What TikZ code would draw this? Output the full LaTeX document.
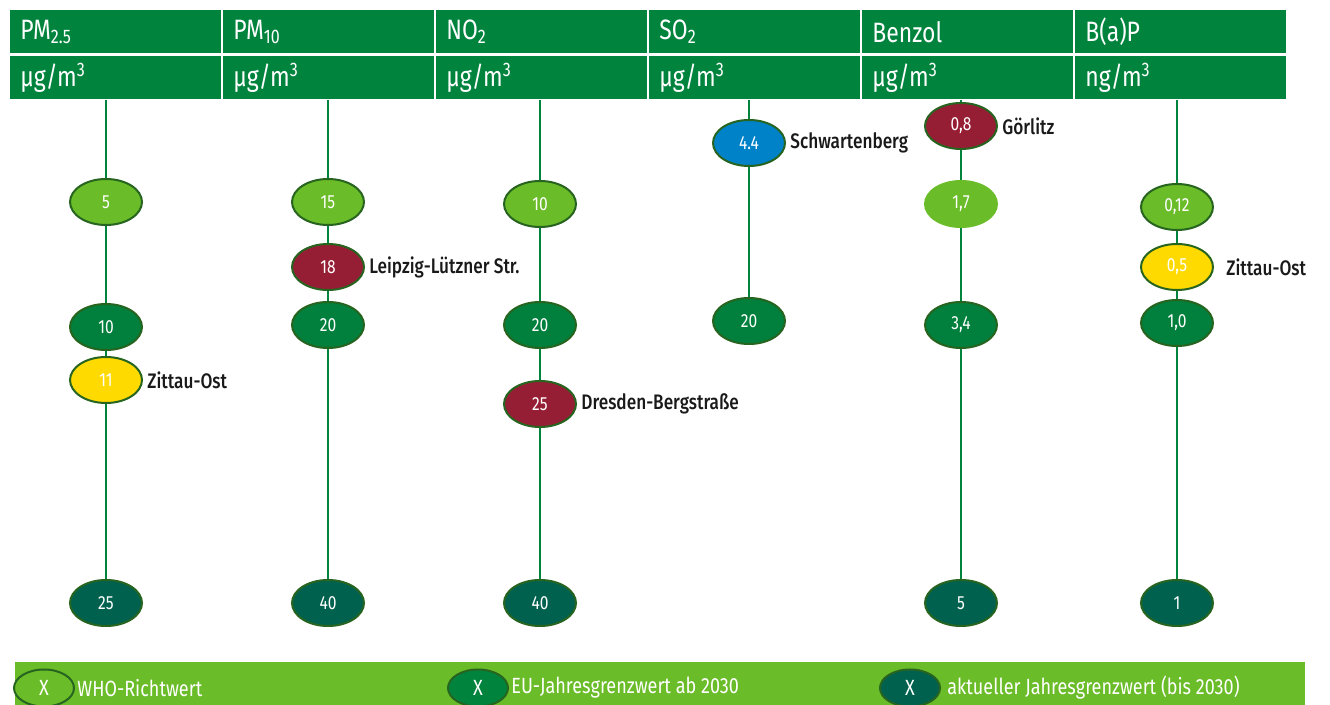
\documentclass[tikz,border=0pt]{standalone}
\usepackage{fontspec}
\setmainfont{Fira Sans}[FakeStretch=0.82, BoldFont={Fira Sans Medium}]
\usetikzlibrary{shapes.geometric, positioning, backgrounds}
\definecolor{headgreen}{RGB}{0, 132, 61}
\definecolor{whogreen}{RGB}{106, 188, 40}
\definecolor{eugreen}{RGB}{0, 128, 60}
\definecolor{nowteal}{RGB}{0, 98, 78}
\definecolor{rimgreen}{RGB}{38, 100, 32}
\definecolor{stationred}{RGB}{150, 30, 52}
\definecolor{stationyellow}{RGB}{255, 218, 0}
\definecolor{stationblue}{RGB}{0, 130, 200}
\definecolor{labelblack}{RGB}{25, 25, 25}
\tikzset{
  headcell/.style    = {rectangle, fill=headgreen, text=white, anchor=north west, inner xsep=5pt, inner ysep=0pt, text width=95.5pt, minimum height=21.5pt, align=left, font=\fontsize{14}{16}\selectfont},
  val/.style         = {ellipse, draw=rimgreen, line width=1pt, minimum width=36pt, minimum height=23pt, inner sep=0pt, text=white, font=\fontsize{9.5}{11}\selectfont},
  valwho/.style      = {val, fill=whogreen},
  valeu/.style       = {val, fill=eugreen},
  valnow/.style      = {val, fill=nowteal},
  valred/.style      = {val, fill=stationred},
  valyellow/.style   = {val, fill=stationyellow},
  valblue/.style     = {val, fill=stationblue},
  station/.style     = {inner sep=2pt, text=labelblack, font=\bfseries\fontsize{10.5}{12}\selectfont},
  stem/.style        = {headgreen, line width=1.2pt},
  legbar/.style      = {fill=whogreen},
  legkey/.style      = {ellipse, draw=rimgreen, line width=1pt, minimum width=30pt, minimum height=18.5pt, inner sep=0pt, text=white, font=\fontsize{11}{13}\selectfont},
  legtext/.style     = {anchor=west, inner sep=0pt, text=white, font=\fontsize{11}{13}\selectfont},
}

\begin{document}
\begin{tikzpicture}[x=0.5pt, y=-0.5pt]

\useasboundingbox (0,0) rectangle (1330,705);

% ================= Kopfzeilen =================
\node (h1) [headcell] at (10,10)   {PM\textsubscript{2.5}};
\node (h2) [headcell] at (223,10)  {PM\textsubscript{10}};
\node (h3) [headcell] at (436,10)  {NO\textsubscript{2}};
\node (h4) [headcell] at (649,10)  {SO\textsubscript{2}};
\node (h5) [headcell] at (862,10)  {Benzol};
\node (h6) [headcell] at (1075,10) {B(a)P};

\node (u1) [headcell] at (10,56)   {µg/m\textsuperscript{3}};
\node (u2) [headcell] at (223,56)  {µg/m\textsuperscript{3}};
\node (u3) [headcell] at (436,56)  {µg/m\textsuperscript{3}};
\node (u4) [headcell] at (649,56)  {µg/m\textsuperscript{3}};
\node (u5) [headcell] at (862,56)  {µg/m\textsuperscript{3}};
\node (u6) [headcell] at (1075,56) {ng/m\textsuperscript{3}};

% ================= PM2.5 =================
\node (pm25who) [valwho]    at (106,202) {5};
\node (pm25eu)  [valeu]     at (106,327) {10};
\node (pm25st)  [valyellow] at (106,380) {11};
\node (pm25now) [valnow]    at (106,603) {25};
\node (pm25lab) [station, right=0pt of pm25st] {Zittau-Ost};

% ================= PM10 =================
\node (pm10who) [valwho] at (328,202) {15};
\node (pm10st)  [valred] at (328,267) {18};
\node (pm10eu)  [valeu]  at (328,325) {20};
\node (pm10now) [valnow] at (328,603) {40};
\node (pm10lab) [station, right=0pt of pm10st] {Leipzig-Lützner Str.};

% ================= NO2 =================
\node (no2who) [valwho] at (540,204) {10};
\node (no2eu)  [valeu]  at (540,325) {20};
\node (no2st)  [valred] at (540,404) {25};
\node (no2now) [valnow] at (540,603) {40};
\node (no2lab) [station, right=0pt of no2st] {Dresden-Bergstraße};

% ================= SO2 =================
\node (so2st) [valblue] at (749,143) {4.4};
\node (so2eu) [valeu]   at (749,321) {20};
\node (so2lab) [station, right=0pt of so2st] {Schwartenberg};

% ================= Benzol =================
\node (bzst)  [valred] at (961,126) {0,8};
\node (bzwho) [valwho, draw=whogreen] at (961,204) {1,7};
\node (bzeu)  [valeu]  at (961,325) {3,4};
\node (bznow) [valnow] at (961,603) {5};
\node (bzlab) [station, right=0pt of bzst] {Görlitz};

% ================= B(a)P =================
\node (bapwho) [valwho]    at (1177,207) {0,12};
\node (bapst)  [valyellow] at (1177,267) {0,5};
\node (bapeu)  [valeu]     at (1177,323) {1,0};
\node (bapnow) [valnow]    at (1177,603) {1};
\node (baplab) [station, right=4pt of bapst] {Zittau-Ost};

% ================= Achsen =================
\begin{scope}[on background layer]
  \draw [stem] (pm25who |- u1.south) -- (pm25now);
  \draw [stem] (pm10who |- u2.south) -- (pm10now);
  \draw [stem] (no2who |- u3.south)  -- (no2now);
  \draw [stem] (so2st |- u4.south)   -- (so2eu);
  \draw [stem] (bzst |- u5.south)    -- (bznow);
  \draw [stem] (bapwho |- u6.south)  -- (bapnow);
\end{scope}

% ================= Legende =================
\fill [legbar] (15,662) rectangle (1305,705);
\node (kwho) [legkey]              at (44,688)  {X};
\node (keu)  [legkey, fill=headgreen] at (478,688) {X};
\node (know) [legkey, fill=nowteal] at (910,688) {X};
\node (twho) [legtext, right=1pt of kwho] {WHO-Richtwert};
\node (teu)  [legtext, right=1pt of keu]  {EU-Jahresgrenzwert ab 2030};
\node (tnow) [legtext, right=3pt of know] {aktueller Jahresgrenzwert (bis 2030)};

\end{tikzpicture}
\end{document}
